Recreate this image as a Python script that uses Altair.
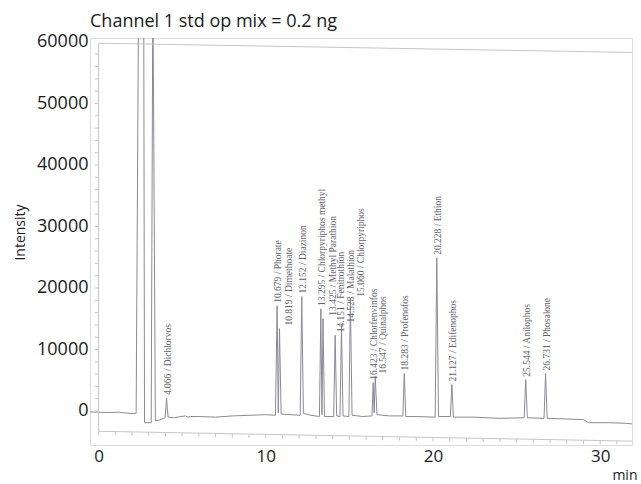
import altair as alt
import pandas as pd

# ---------------- data ----------------
trace_time = [-0.5, 0.5, 1.2, 1.9, 2.25, 2.4, 2.7, 2.75, 3.15, 3.25, 3.4, 3.6, 3.9, 3.98,
              4.066, 4.16, 4.5, 5.2, 5.35, 5.5, 6.0, 7.0, 8.0, 9.0, 10.0, 10.58,
              10.679, 10.75, 10.819, 10.92, 11.5, 12.06, 12.152, 12.25, 12.7, 13.21,
              13.295, 13.36, 13.425, 13.51, 14.06, 14.151, 14.24, 14.44, 14.528, 14.62,
              14.97, 15.060, 15.16, 15.8, 16.35, 16.423, 16.48, 16.547, 16.65, 17.4,
              18.2, 18.283, 18.37, 19.0, 20.13, 20.228, 20.33, 21.04, 21.127, 21.22,
              22.5, 24.0, 25.45, 25.544, 25.64, 26.64, 26.731, 26.83, 28.0, 29.0,
              29.3, 30.5, 31.5, 31.9]
trace_int = [-150, -250, -200, -400, -400, 70000, 70000, -1900, -1900, 70000, -1600, -1500, -1200, -1100,
             2100, -1000, -1100, -800, -1000, -900, -900, -1000, -800, -700, -600, -700,
             17100, -300, 13400, -500, -600, -700, 18600, -400, -700, -900,
             16600, -600, 15000, -900, -900, 12300, -800, -900, 13900, -800,
             -900, 18100, -700, -900, -800, 4600, -300, 5600, -600, -800,
             -800, 6100, -900, -900, -1000, 24900, -900, -900, 4300, -1000,
             -1000, -1200, -1100, 5100, -1100, -1200, 6100, -1200, -1300, -1400,
             -1900, -1900, -2000, -2100]

peak_time = [4.066, 10.679, 10.819, 12.152, 13.295, 13.425, 14.151, 14.528, 15.060,
             16.423, 16.547, 18.283, 20.228, 21.127, 25.544, 26.731]
peak_height = [2100, 17100, 13400, 18600, 16600, 15000, 12300, 13900, 18100,
               4600, 5600, 6100, 24900, 4300, 5100, 6100]
peak_label = ["4.066 / Dichlorvos", "10.679 / Phorate", "10.819 / Dimethoate",
              "12.152 / Diazinon", "13.295 / Chlorpyriphos methyl",
              "13.425 / Methyl Parathion", "14.151 / Fenitrothion", "14.528 / Malathion",
              "15.060 / Chlorpyriphos", "16.423 / Chlorfenvinfos", "16.547 / Quinalphos",
              "18.283 / Profenofos", "20.228 / Ethion", "21.127 / Edifenophos",
              "25.544 / Anilophos", "26.731 / Phosalone"]

x_ticks = [0, 10, 20, 30]
y_ticks = [0, 10000, 20000, 30000, 40000, 50000, 60000]

# ---------------- style / layout ----------------
label_nudge_px = {"10.819 / Dimethoate": 10, "13.425 / Methyl Parathion": 10,
                  "14.151 / Fenitrothion": 6, "14.528 / Malathion": 10,
                  "15.060 / Chlorpyriphos": 11, "16.547 / Quinalphos": 8}
FONT = "Open Sans"
TRACE = "#8c8999"
FRAME = "#c6c4ce"

xs = alt.Scale(domain=[-0.51, 31.9], nice=False, zero=False)
ys = alt.Scale(domain=[-5530, 60650], nice=False, zero=False)

X_AX = alt.Axis(
    values=x_ticks, title="min", labelFont=FONT, labelFontSize=17, labelColor="#1a1a1a",
    domain=False, ticks=False, grid=False, labelPadding=3,
    titleFont=FONT, titleFontSize=14, titleFontWeight="normal", titleColor="#1a1a1a",
    titleX=547, titleY=34, titleAlign="right", titleBaseline="alphabetic")
Y_AX = alt.Axis(
    values=y_ticks, format="d", title="Intensity", labelFont=FONT, labelFontSize=18,
    labelColor="#1a1a1a", domain=False, ticks=False, grid=False, labelPadding=2,
    titleFont=FONT, titleFontSize=14, titleFontWeight="normal", titleColor="#1a1a1a",
    titleX=-66, titleY=194, titleAlign="center", titleBaseline="alphabetic")

trace = pd.DataFrame({"t": trace_time, "v": trace_int, "o": list(range(len(trace_time)))})
peaks = pd.DataFrame({"t": peak_time, "v": peak_height, "label": peak_label})
peaks["nudge"] = [label_nudge_px.get(l, 1) for l in peak_label]

frame_lines = pd.DataFrame({
    "t": [0.0, 0.0, 0.0],
    "t2": [31.9, 31.9, 0.0],
    "v": [59800, -3300, -3300],
    "v2": [58300, -4900, 59800],
})
bottom_ticks = pd.DataFrame({"t": list(range(0, 32))})
left_ticks = pd.DataFrame({"v": list(range(0, 60000, 2000))})


def X(f):
    return alt.X(f, scale=xs, axis=X_AX)


def Y(f):
    return alt.Y(f, scale=ys, axis=Y_AX)


base_line = alt.Chart(trace).mark_line(color=TRACE, strokeWidth=1, clip=True).encode(
    x=X("t:Q"), y=Y("v:Q"), order="o:Q",
)

frame = alt.Chart(frame_lines).mark_rule(color=FRAME, strokeWidth=1).encode(
    x=X("t:Q"), x2="t2:Q", y=Y("v:Q"), y2="v2:Q",
)

bt = alt.Chart(bottom_ticks).transform_calculate(
    lo="-3300 - datum.t * 50", hi="-3900 - datum.t * 50"
).mark_rule(color=FRAME, strokeWidth=1).encode(
    x=X("t:Q"), y=Y("lo:Q"), y2="hi:Q",
)

lt = alt.Chart(left_ticks).transform_calculate(a="-0.22", b="0").mark_rule(
    color=FRAME, strokeWidth=1).encode(
    x=X("a:Q"), x2="b:Q", y=Y("v:Q"),
)

label_layers = []
for n in sorted(set(peaks["nudge"])):
    label_layers.append(
        alt.Chart(peaks[peaks["nudge"] == n]).mark_text(
            angle=270, align="left", baseline="middle", dx=3, dy=n,
            font="Liberation Serif", fontSize=9.5, color="#64626e",
        ).encode(x=X("t:Q"), y=Y("v:Q"), text="label:N")
    )

chart = alt.layer(base_line, frame, bt, lt, *label_layers).properties(
    width=542, height=407,
    autosize=alt.AutoSizeParams(type="none"),
    padding={"left": 90, "top": 38, "right": 9, "bottom": 39},
    title=alt.TitleParams("Channel 1 std op mix = 0.2 ng", anchor="start", frame="group",
                          font=FONT, fontSize=18, fontWeight="normal", color="#1a1a1a",
                          offset=2),
).configure_view(fill="#f3f3f6", stroke=None).configure(background="white")

chart.save("out.html", embed_options={"renderer": "svg", "actions": False})
